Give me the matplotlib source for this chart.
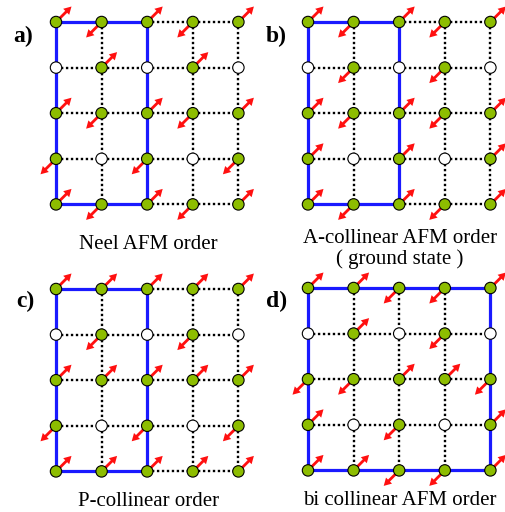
import matplotlib
matplotlib.use('Agg')
import matplotlib.pyplot as plt
from matplotlib.patches import Circle


# DATA
# spin on each site of the 5x5 lattice, top row first
# 1 = moment up-right, -1 = moment down-left, 0 = empty (vacancy) site
neel_spins = [
    [1, -1, 1, -1, 1],
    [0, 1, 0, 1, 0],
    [1, -1, 1, -1, 1],
    [-1, 0, -1, 0, -1],
    [1, -1, 1, -1, 1],
]
a_collinear_spins = [
    [1, -1, 1, -1, 1],
    [0, -1, 0, -1, 0],
    [1, -1, 1, -1, 1],
    [1, 0, 1, 0, 1],
    [1, -1, 1, -1, 1],
]
p_collinear_spins = [
    [1, 1, 1, 1, 1],
    [0, -1, 0, -1, 0],
    [1, 1, 1, 1, 1],
    [-1, 0, -1, 0, -1],
    [1, 1, 1, 1, 1],
]
bi_collinear_spins = [
    [1, 1, -1, -1, 1],
    [0, 1, 0, -1, 0],
    [-1, -1, 1, 1, -1],
    [1, 0, -1, 0, 1],
    [1, 1, -1, -1, 1],
]

panel_labels = ['a)', 'b)', 'c)', 'd)']
panel_captions = [
    ['Neel AFM order'],
    ['A-collinear AFM order', '( ground state )'],
    ['P-collinear order'],
    ['bi collinear AFM order'],
]
# number of columns spanned by the blue magnetic cell
cell_widths = [2, 2, 2, 4]


# STYLE
GREEN = '#8dbd00'
RED = '#ff1010'
BLUE = '#1a1aff'
SPACING = 45.6
RADIUS = 5.7
SERIF = ['Liberation Serif', 'DejaVu Serif']


# FUNCTIONS
def draw_lattice(ax, spins, x0, y0, cell_w):
    n = len(spins)
    xs = [x0 + SPACING * c for c in range(n)]
    ys = [y0 + SPACING * r for r in range(n)]

    # dotted bonds (skip the ones covered by the blue cell)
    for r in range(n):
        for c in range(n - 1):
            if r in (0, n - 1) and c < cell_w:
                continue
            ax.plot([xs[c], xs[c + 1]], [ys[r], ys[r]], color='black', lw=1.7,
                    linestyle=(0, (1, 1.1)), zorder=1)
    for c in range(n):
        if c in (0, cell_w):
            continue
        for r in range(n - 1):
            ax.plot([xs[c], xs[c]], [ys[r], ys[r + 1]], color='black', lw=1.7,
                    linestyle=(0, (1, 1.1)), zorder=1)

    # blue magnetic cell
    ax.plot([xs[0], xs[cell_w], xs[cell_w], xs[0], xs[0]],
            [ys[0], ys[0], ys[-1], ys[-1], ys[0]],
            color=BLUE, lw=2.3, zorder=2, solid_joinstyle='miter')

    # spins and sites
    for r in range(n):
        for c in range(n):
            s = spins[r][c]
            if s != 0:
                ax.arrow(xs[c], ys[r], 15.5 * s, -15.5 * s, width=2.8,
                         head_width=8.5, head_length=7.5, length_includes_head=True,
                         color=RED, lw=0, zorder=3)
            face = GREEN if s != 0 else 'white'
            ax.add_patch(Circle((xs[c], ys[r]), RADIUS, facecolor=face,
                                edgecolor='black', lw=0.8, zorder=4))


# PLOT
fig = plt.figure(figsize=(5.06, 5.12), dpi=100)
ax = fig.add_axes([0, 0, 1, 1])
ax.set_xlim(0, 506)
ax.set_ylim(512, 0)
ax.axis('off')

all_spins = [neel_spins, a_collinear_spins, p_collinear_spins, bi_collinear_spins]
origins = [(56, 22), (308, 22), (56, 289), (308, 288)]
label_pos = [(13, 42), (266, 42), (16, 307), (266, 307)]
caption_pos = [(148, [249]), (400, [243, 264]), (149, [506]), (400, [505])]

for i in range(4):
    x0, y0 = origins[i]
    draw_lattice(ax, all_spins[i], x0, y0, cell_widths[i])

    lx, ly = label_pos[i]
    ax.text(lx, ly, panel_labels[i], fontsize=17, fontweight='bold',
            family=SERIF, ha='left', va='baseline')

    cx, cys = caption_pos[i]
    for line, cy in zip(panel_captions[i], cys):
        ax.text(cx, cy, line, fontsize=15, family=SERIF, ha='center', va='baseline')

fig.savefig('out.png', dpi=100)
